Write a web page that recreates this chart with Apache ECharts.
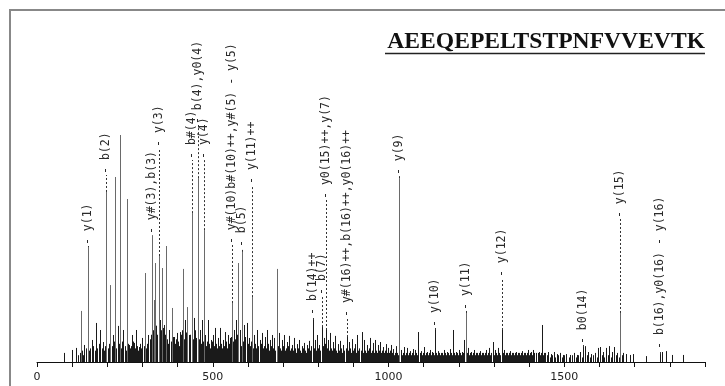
<!DOCTYPE html>
<html>
<head>
<meta charset="utf-8">
<script src="https://cdn.jsdelivr.net/npm/echarts@6/dist/echarts.min.js"></script>
<style>
  html, body { margin: 0; padding: 0; background: #fff; }
  #spec { width: 725px; height: 386px; }
</style>
</head>
<body>
<div id="spec"></div>
<script>
// peptide sequence shown top right
var peptide = 'AEEQEPELTSTPNFVVEVTK';

// m/z axis
var mzMin = 0, mzMax = 1900, mzStep = 100, mzLabelStep = 500;

// main peaks [m/z, relative intensity %]
var mainPeaks = [
  [77.6, 4.0], [100, 5.3], [112, 6.2], [126, 22.5], [134.5, 7.5], [144, 50.7], [156, 9.7],
  [169, 17.2], [180, 14.1], [188.5, 8.8], [196, 74.9], [208.4, 33.9], [217, 11.9], [222.6, 81.5],
  [231, 15.9], [236.8, 100], [245, 14.1], [256, 71.8], [262, 7.5], [270, 11.9], [276.6, 8.4],
  [282, 14.1], [291, 6.6], [299, 10.6], [308, 39.2], [316.5, 11.9], [327, 55.9], [332, 27.3],
  [336, 43.6], [345.7, 46.7], [350.5, 18.5], [356, 41.4], [362, 16.3], [367.6, 51.1], [376, 14.1],
  [383.8, 23.8], [390, 11], [398, 12.8], [406, 13.2], [415, 41], [420, 18.5], [426.5, 24.2],
  [433, 11.9], [440.7, 65.6], [446, 19.4], [451.5, 10.6], [456.6, 81], [464, 14.1], [468.5, 18.5],
  [473.7, 58.1], [478.5, 11.9], [487, 18.5], [495.6, 9.7], [501, 11.9], [507, 15], [515.5, 10.6],
  [521, 15], [529.6, 9.7], [535, 13.2], [544, 11.9], [549.6, 10.6], [554.4, 26], [561, 14.1],
  [566.6, 18.5], [573, 43.6], [578, 14.1], [584.5, 48.5], [589.4, 16.3], [597, 17.2], [603.6, 10.6],
  [611.3, 28.6], [618, 11.9], [626, 14.1], [635, 9.7], [640.5, 12.8], [649, 11], [655, 14.1],
  [663, 9.7], [669, 11.9], [675, 10.6], [682.4, 41], [689, 12.8], [697, 9.7], [703, 11.9],
  [711.6, 8.8], [717, 11.5], [726, 7.5], [731, 10.6], [740, 7.9], [746, 9.7], [754, 7], [760, 8.4],
  [768.5, 7.5], [774, 9.3], [785, 18.5], [791, 9.7], [797, 11.9], [803, 7.5], [810, 15.4],
  [817, 10.6], [821, 14.1], [828, 9.7], [834, 12.8], [842, 8.8], [848, 11.5], [857, 7.9], [863, 9.3],
  [871, 7.5], [881, 11], [888, 8.8], [896, 10.1], [905, 7.9], [911, 11.9], [924, 13.2], [930.5, 9.7],
  [939, 7.5], [947.6, 10.6], [956, 8.4], [962, 9.7], [970, 7.5], [976, 8.8], [985, 6.6], [993, 7.9],
  [999, 6.2], [1007, 7.5], [1013, 5.7], [1021.5, 7], [1031, 81], [1036, 5.3], [1044, 6.6],
  [1053, 6.2], [1061, 4.8], [1070, 5.7], [1076, 5.3], [1085, 13.2], [1093, 4.8], [1101, 6.6],
  [1110, 4.4], [1118, 5.3], [1124, 4.4], [1132, 14.1], [1141, 4.8], [1150, 4], [1158, 5.3],
  [1167, 4.4], [1175, 5.7], [1184, 14.1], [1192, 4.4], [1200, 5.3], [1209, 4.4], [1215, 9.7],
  [1219, 21.6], [1226, 6.2], [1235, 4.4], [1243, 5.3], [1252, 4], [1261, 4.8], [1269, 4],
  [1278, 5.3], [1286, 6.2], [1297, 8.8], [1303, 5.3], [1312, 6.2], [1322, 14.1], [1329, 5.3],
  [1337, 4], [1346, 4.8], [1354, 4], [1363, 4.4], [1371, 4], [1380, 4.8], [1388, 4], [1397, 5.3],
  [1405, 4.4], [1412, 5.3], [1420, 4], [1428, 4.4], [1436, 16.3], [1445, 4], [1454, 4.4],
  [1462, 3.5], [1471, 4.4], [1479, 3.5], [1488, 4], [1497, 3.1], [1505, 3.5], [1517, 3.1],
  [1528, 4], [1536, 3.1], [1545, 4.4], [1554, 6.6], [1559, 7], [1568, 4.4], [1576, 3.5], [1588, 4],
  [1596, 6.2], [1602, 6.6], [1610, 4.4], [1619, 6.2], [1627, 7], [1636, 4.4], [1642, 6.6],
  [1650, 4], [1659, 21.6], [1667, 4], [1676, 3.5], [1687, 3.1], [1696, 3.5], [1731, 2.6],
  [1772, 3.5], [1778, 4.4], [1790, 4.8], [1807, 3.1], [1838, 3.1]
];

// low-level noise peaks
var noisePeaks = [
  [118, 3], [122, 4], [128, 5], [131, 3], [138, 6], [148, 5], [152, 6], [160, 7], [164, 5], [172, 6],
  [176, 8], [184, 6], [190, 5], [193, 7], [203, 6], [206, 8], [212, 7], [215, 5], [220, 9], [226, 6],
  [229, 7], [234, 8], [240, 6], [243, 9], [249, 7], [252, 5], [259, 8], [265, 6], [268, 7], [274, 9],
  [279, 6], [285, 7], [288, 5], [294, 8], [297, 6], [303, 7], [306, 9], [311, 6], [314, 8], [320, 10],
  [323, 12], [330, 14], [334, 18], [338, 16], [341, 12], [348, 20], [352, 14], [355, 11], [359, 15],
  [365, 12], [370, 10], [373, 8], [380, 9], [386, 11], [393, 8], [396, 10], [401, 9], [404, 7],
  [410, 12], [413, 14], [418, 10], [423, 13], [428, 9], [431, 11], [436, 12], [443, 10], [448, 14],
  [453, 9], [460, 10], [466, 8], [471, 9], [476, 12], [481, 7], [484, 9], [490, 8], [493, 6], [498, 9],
  [504, 7], [510, 8], [513, 6], [518, 7], [524, 8], [527, 6], [532, 7], [538, 9], [541, 6], [547, 8],
  [552, 11], [557, 9], [563, 10], [569, 12], [572, 8], [576, 10], [581, 7], [587, 9], [593, 11],
  [600, 8], [606, 7], [609, 9], [615, 6], [621, 8], [624, 6], [630, 7], [633, 5], [638, 8], [644, 6],
  [646, 7], [652, 6], [658, 8], [661, 5], [666, 7], [672, 6], [678, 5], [685, 7], [692, 6], [695, 5],
  [700, 7], [706, 5], [709, 6], [714, 7], [720, 5], [723, 6], [729, 5], [734, 6], [737, 4], [743, 6],
  [748, 5], [751, 4], [757, 6], [763, 5], [766, 4], [771, 6], [777, 5], [780, 7], [788, 6], [794, 5],
  [800, 6], [806, 5], [813, 7], [819, 8], [824, 6], [831, 5], [837, 6], [840, 5], [845, 6], [851, 5],
  [854, 4], [860, 5], [866, 6], [868, 4], [874, 5], [878, 6], [884, 5], [891, 6], [893, 4], [899, 5],
  [902, 6], [908, 4], [914, 5], [917, 6], [921, 5], [927, 4], [933, 5], [936, 4], [942, 5], [945, 6],
  [950, 4], [953, 5], [959, 4], [965, 5], [968, 4], [973, 5], [979, 4], [982, 5], [988, 4], [991, 5],
  [996, 4], [1002, 4], [1005, 5], [1010, 4], [1016, 3], [1019, 4], [1024, 4], [1027, 3], [1034, 4],
  [1039, 3], [1042, 4], [1047, 3], [1050, 4], [1056, 3], [1058, 4], [1064, 3], [1067, 4], [1073, 3],
  [1079, 4], [1082, 3], [1088, 4], [1090, 3], [1096, 3], [1099, 4], [1104, 3], [1107, 4], [1113, 3],
  [1116, 4], [1121, 3], [1127, 4], [1130, 3], [1135, 4], [1138, 3], [1144, 4], [1147, 3], [1153, 4],
  [1156, 3], [1161, 4], [1164, 3], [1170, 4], [1173, 3], [1178, 4], [1181, 3], [1187, 4], [1190, 3],
  [1195, 4], [1198, 3], [1204, 4], [1207, 3], [1212, 4], [1222, 4], [1229, 3], [1232, 4], [1238, 3],
  [1241, 4], [1246, 3], [1249, 4], [1255, 3], [1258, 4], [1264, 3], [1267, 4], [1272, 3], [1275, 4],
  [1281, 3], [1284, 4], [1289, 3], [1292, 4], [1300, 3], [1306, 4], [1309, 3], [1315, 4], [1318, 3],
  [1325, 4], [1332, 3], [1335, 4], [1340, 3], [1343, 4], [1349, 3], [1352, 4], [1357, 3], [1360, 4],
  [1366, 3], [1369, 4], [1374, 3], [1377, 4], [1383, 3], [1386, 4], [1391, 3], [1394, 4], [1400, 3],
  [1403, 4], [1408, 3], [1415, 4], [1418, 3], [1425, 4], [1431, 3], [1434, 4], [1440, 3], [1443, 4],
  [1450, 3], [1458, 2], [1466, 3], [1474, 2], [1483, 3], [1492, 2], [1500, 3], [1512, 2], [1522, 3],
  [1532, 2], [1540, 3], [1550, 2], [1563, 3], [1572, 2], [1582, 3], [1592, 2], [1606, 3], [1614, 2],
  [1623, 3], [1632, 2], [1646, 3], [1654, 2], [1663, 3]
];

// ion annotations [peak m/z, peak intensity, label start intensity, text]
var ionLabels = [
  [144, 50.7, 51.1, '- y(1)'],
  [196, 74.9, 82.4, '- b(2)'],
  [327, 55.9, 55.9, '- y#(3),b(3)'],
  [345.7, 46.7, 94.3, '- y(3)'],
  [440.7, 65.6, 89, '- b#(4)'],
  [456.6, 81, 104.4, '- b(4),y0(4)'],
  [473.7, 58.1, 89, '- y(4)'],
  [554.4, 26, 51.5, '- y#(10)b#(10)++,y#(5) - y(5)'],
  [584.5, 48.5, 50.2, '- b(5)'],
  [611.3, 28.6, 78, '- y(11)++'],
  [785, 18.5, 20.3, '- b(14)++'],
  [810, 15.4, 29.1, '- b(7)'],
  [821, 14.1, 71.4, '- y0(15)++,y(7)'],
  [881, 11, 19.4, '- y#(16)++,b(16)++,y0(16)++'],
  [1031, 81, 81.9, '- y(9)'],
  [1132, 14.1, 15, '- y(10)'],
  [1219, 21.6, 22.5, '- y(11)'],
  [1322, 14.1, 37, '- y(12)'],
  [1554, 6.6, 7.5, '- b0(14)'],
  [1659, 21.6, 63, '- y(15)'],
  [1772, 3.5, 5.3, '- b(16),y0(16) - y(16)']
];

var chart = echarts.init(document.getElementById('spec'));

function stick(params, api) {
  var mz = api.value(0);
  var base = api.coord([mz, 0]);
  var top = api.coord([mz, api.value(1)]);
  var x = Math.round(base[0]) + 0.5;
  return {
    type: 'line',
    shape: { x1: x, y1: base[1], x2: x, y2: top[1] },
    style: { stroke: api.value(1) > 20 ? '#6a6a6a' : '#1a1a1a', lineWidth: 1 }
  };
}

function ionLabel(params, api) {
  var item = ionLabels[params.dataIndex];
  var p = api.coord([item[0], item[1]]);
  var l = api.coord([item[0], item[2]]);
  var x = Math.round(p[0]) + 0.5;
  return {
    type: 'group',
    children: [
      {
        type: 'line',
        shape: { x1: x, y1: p[1], x2: x, y2: l[1] },
        style: { stroke: '#333', lineWidth: 1, lineDash: [2, 2] }
      },
      {
        type: 'text',
        x: x,
        y: l[1] - 1,
        rotation: Math.PI / 2,
        style: {
          text: item[3],
          fontFamily: 'DejaVu Sans Mono',
          fontSize: 11.5,
          fill: '#2a2a2a',
          align: 'left',
          verticalAlign: 'middle'
        }
      }
    ]
  };
}

chart.setOption({
  animation: false,
  backgroundColor: '#fff',
  grid: { left: 37, right: 20, top: 135, bottom: 24 },
  xAxis: {
    type: 'value',
    min: mzMin,
    max: mzMax,
    interval: mzStep,
    axisLine: { lineStyle: { color: '#111', width: 1 } },
    axisTick: { length: 5, lineStyle: { color: '#111' } },
    axisLabel: {
      margin: 10,
      color: '#222',
      fontFamily: 'DejaVu Sans',
      fontSize: 11,
      formatter: function (v) { return v % mzLabelStep === 0 ? String(v) : ''; }
    },
    splitLine: { show: false }
  },
  yAxis: { type: 'value', min: 0, max: 100, show: false },
  graphic: [
    {
      type: 'rect',
      shape: { x: 10, y: 10, width: 800, height: 500 },
      style: { fill: 'none', stroke: '#888', lineWidth: 2 },
      z: 0
    },
    {
      type: 'text',
      x: 705,
      y: 42,
      style: {
        text: peptide,
        font: 'bold 23.6px "Liberation Serif"',
        fill: '#111',
        align: 'right',
        verticalAlign: 'middle'
      }
    },
    {
      type: 'line',
      shape: { x1: 385, y1: 53.5, x2: 705, y2: 53.5 },
      style: { stroke: '#222', lineWidth: 1.5 }
    }
  ],
  series: [
    { type: 'custom', name: 'noise', data: noisePeaks, renderItem: stick, clip: false, silent: true },
    { type: 'custom', name: 'peaks', data: mainPeaks, renderItem: stick, clip: false, silent: true },
    {
      type: 'custom', name: 'ions', clip: false, silent: true,
      data: ionLabels.map(function (d) { return [d[0], d[2]]; }),
      renderItem: ionLabel
    }
  ]
});
</script>
</body>
</html>
